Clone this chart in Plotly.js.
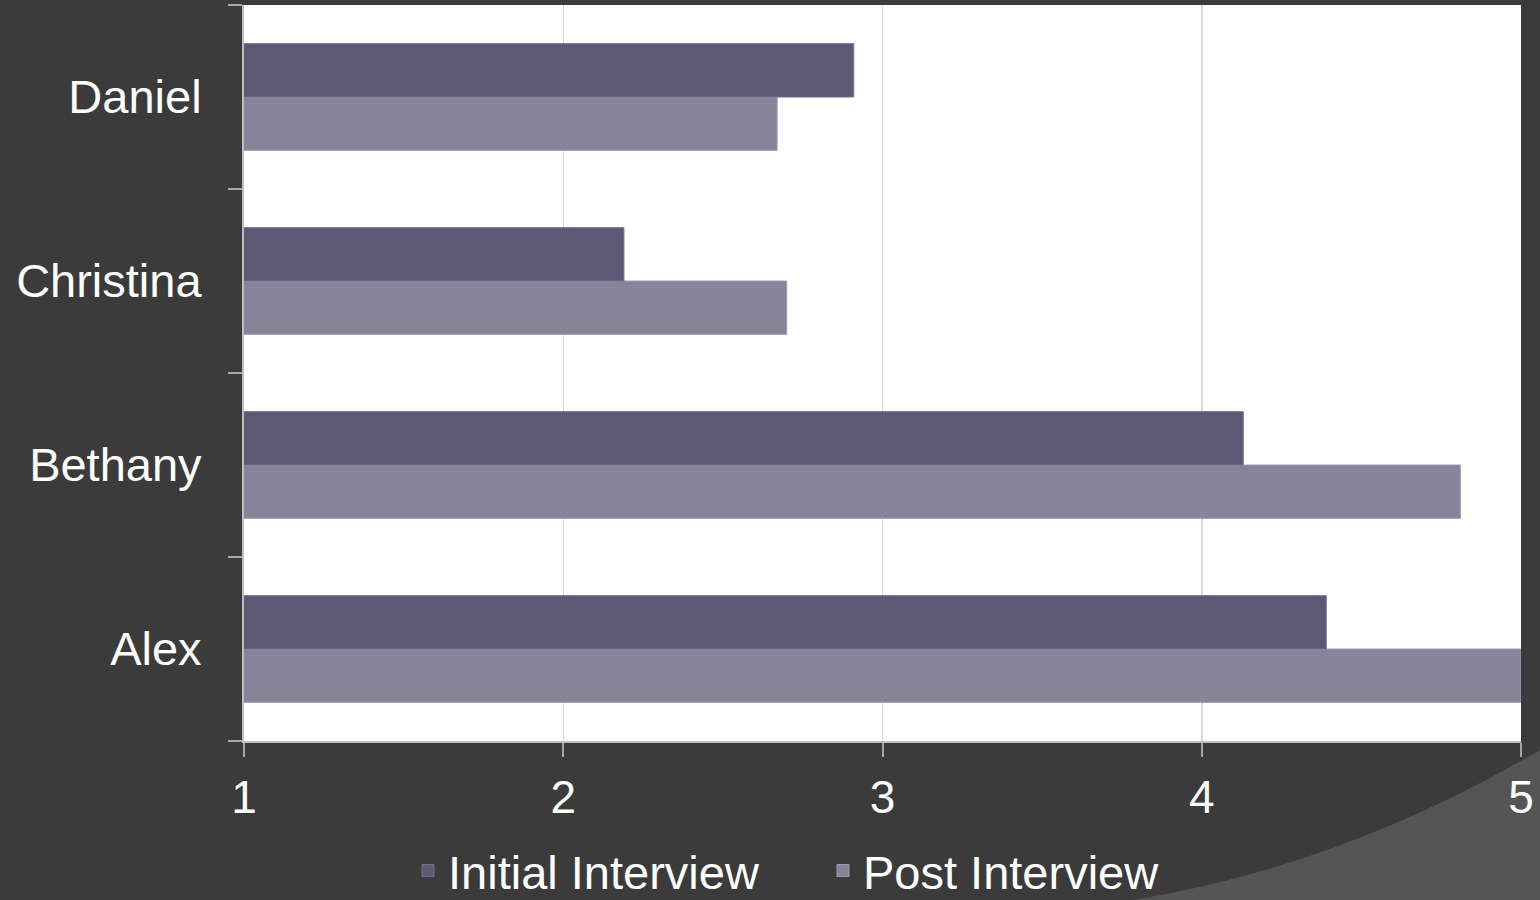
<!DOCTYPE html>
<html>
<head>
<meta charset="utf-8">
<script src="https://cdn.plot.ly/plotly-3.0.1.min.js"></script>
<style>html,body{margin:0;padding:0;background:#3b3b3b;}#chart{width:1540px;height:900px;}</style>
</head>
<body>
<div id="chart"></div>
<script>
const categories = ["Alex", "Bethany", "Christina", "Daniel"];
const initialInterview = [4.39, 4.13, 2.19, 2.91];
const postInterview = [5.0, 4.81, 2.70, 2.67];
const seriesNames = ["Initial Interview", "Post Interview"];
const xTicks = [1, 2, 3, 4, 5];

const fam = "Liberation Sans";

// Post drawn first so that Initial sits on top within each group
const traces = [
  {type: "bar", orientation: "h", name: seriesNames[1], y: categories, x: postInterview,
   marker: {color: "#87849a", line: {color: "#a09cb2", width: 1}}},
  {type: "bar", orientation: "h", name: seriesNames[0], y: categories, x: initialInterview,
   marker: {color: "#5d5975", line: {color: "#75708c", width: 1}}}
];

const layout = {
  width: 1540, height: 900,
  paper_bgcolor: "#3b3b3b", plot_bgcolor: "#ffffff",
  font: {family: fam, color: "#ffffff"},
  margin: {l: 244, r: 19, t: 5, b: 159, pad: 0},
  barmode: "group", bargap: 0.42, bargroupgap: 0,
  showlegend: true,
  legend: {orientation: "h", xref: "container", yref: "container",
           x: 408 / 1540, xanchor: "left", y: 29 / 900, yanchor: "middle",
           font: {family: fam, size: 47, color: "#ffffff"}, bgcolor: "rgba(0,0,0,0)",
           traceorder: "reversed", entrywidth: 370, itemwidth: 30},
  xaxis: {range: [1, 5], tickvals: xTicks, ticktext: xTicks.map(String),
          showgrid: true, gridcolor: "#d9d9d9", gridwidth: 1.5,
          showline: true, linecolor: "#bfbfbf", linewidth: 2,
          ticks: "outside", ticklen: 14, tickwidth: 2, tickcolor: "#a6a6a6",
          tickfont: {family: fam, size: 46, color: "#ffffff"}, ticklabelstandoff: 1,
          zeroline: false, fixedrange: true},
  yaxis: {type: "category", categoryorder: "array", categoryarray: categories,
          showline: true, linecolor: "#bfbfbf", linewidth: 2,
          ticks: "outside", tickson: "boundaries", ticklen: 14, tickwidth: 2, tickcolor: "#a6a6a6",
          tickfont: {family: fam, size: 47, color: "#ffffff"}, ticklabelstandoff: 31,
          showgrid: false, fixedrange: true},
  shapes: [
    {type: "path", xref: "paper", yref: "paper", layer: "below",
     path: "M 0.696 -0.216 Q 0.86 -0.17 1.0149 -0.0122 L 1.0149 -0.216 Z",
     fillcolor: "#555555", line: {width: 0}}
  ]
};

Plotly.newPlot("chart", traces, layout, {displayModeBar: false, staticPlot: true});
</script>
</body>
</html>
